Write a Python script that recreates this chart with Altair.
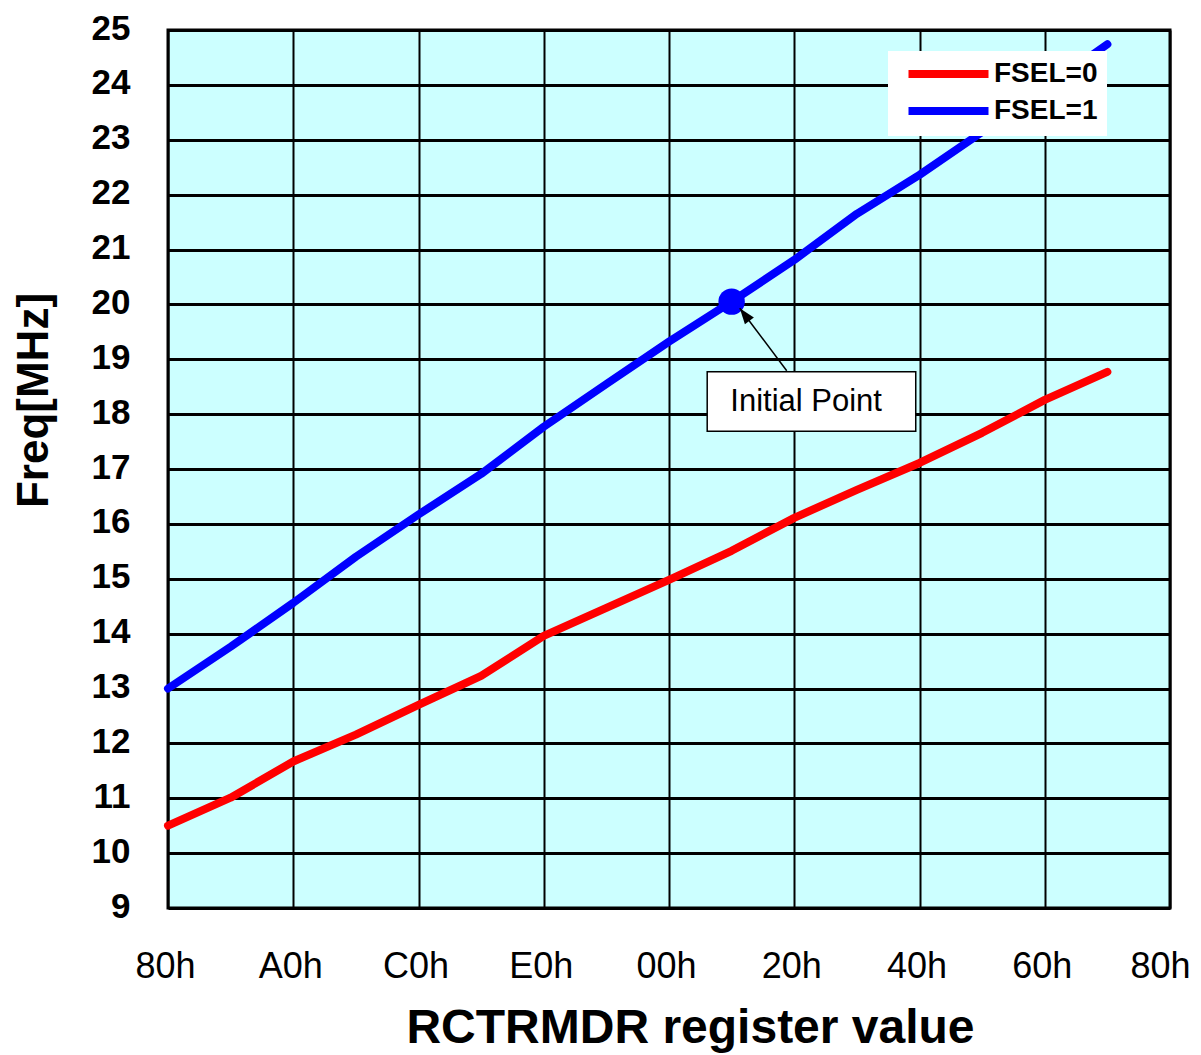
import altair as alt
import pandas as pd

# ---- data ----
REG_STEP = list(range(16))          # 80h, 90h, ... 70h  (step of 10h)
FSEL0 = [10.50, 11.01, 11.67, 12.16, 12.70, 13.23, 13.96, 14.47,
         14.98, 15.51, 16.11, 16.62, 17.11, 17.66, 18.26, 18.77]
FSEL1 = [13.00, 13.76, 14.56, 15.40, 16.17, 16.91, 17.77, 18.55,
         19.32, 20.05, 20.81, 21.65, 22.36, 23.14, 23.94, 24.74]
SERIES = ["FSEL=0", "FSEL=1"]
TICK_POS = [0, 2, 4, 6, 8, 10, 12, 14, 16]
TICK_LABELS = ["80h", "A0h", "C0h", "E0h", "00h", "20h", "40h", "60h", "80h"]
Y_TICKS = list(range(9, 26))

INIT_IDX = 9                      # 10h on FSEL=1 curve
INIT_TEXT = "Initial Point"
# annotation geometry in data units
BOX = dict(x=8.61, x2=11.94, y=18.77, y2=17.69)
BOX_TEXT = dict(x=10.19, y=18.23)
ARROW = dict(x=9.88, y=18.79, x2=9.13, y2=19.93)

rows = []
for i, s in enumerate(REG_STEP):
    rows.append({"step": s, "freq": FSEL0[i], "series": SERIES[0]})
    rows.append({"step": s, "freq": FSEL1[i], "series": SERIES[1]})
df = pd.DataFrame(rows)

label_expr = "{" + ",".join(f"'{p}':'{l}'" for p, l in zip(TICK_POS, TICK_LABELS)) + "}[datum.value]"

xscale = alt.Scale(domain=[0, 16], nice=False, zero=False)
yscale = alt.Scale(domain=[9, 25], nice=False, zero=False)

x_axis = alt.Axis(values=TICK_POS, labelExpr=label_expr, grid=True, gridColor="black",
                  gridWidth=2, gridOpacity=1, ticks=False, domain=False, labelFlush=False,
                  labelFont="Liberation Sans", labelFontSize=36, labelColor="black",
                  labelPadding=41,
                  labelOffset={"condition": {"test": f"datum.value == {TICK_POS[-1]}", "value": -10},
                               "value": -3},
                  labelBaseline="top",
                  title="RCTRMDR register value", titleFont="Liberation Sans",
                  titleFontSize=48, titleFontWeight="bold", titleColor="black",
                  titleX=522, titleY=120, titleBaseline="middle", titleAlign="center")
y_axis = alt.Axis(values=Y_TICKS, grid=True, gridColor="black", gridWidth=3, gridOpacity=1,
                  ticks=False, domain=False, labelFlush=False,
                  labelFont="Liberation Sans", labelFontSize=35, labelFontWeight="bold",
                  labelColor="black", labelPadding=38, labelOffset=-2,
                  title="Freq[MHz]", titleFont="Liberation Sans", titleFontSize=44,
                  titleFontWeight="bold", titleColor="black", titleAngle=-90,
                  titleX=-134, titleY=370, titleBaseline="middle", titleAlign="center")

lines = alt.Chart(df).mark_line(strokeWidth=8, strokeCap="round", strokeJoin="round").encode(
    x=alt.X("step:Q", scale=xscale, axis=x_axis),
    y=alt.Y("freq:Q", scale=yscale, axis=y_axis),
    color=alt.Color("series:N", scale=alt.Scale(domain=SERIES, range=["#FF0000", "#0000FF"]),
                    legend=alt.Legend(orient="none", legendX=720, legendY=21, title=None,
                                      fillColor="white", padding=9,
                                      symbolType="M-4,0H4", symbolSize=400,
                                      symbolStrokeWidth=8, symbolOffset=37.5,
                                      labelOffset=31.5, labelFont="Liberation Sans",
                                      labelFontSize=28, labelFontWeight="bold",
                                      labelColor="black", rowPadding=5)),
    detail="series:N",
)

init_df = pd.DataFrame({"step": [REG_STEP[INIT_IDX]], "freq": [FSEL1[INIT_IDX]]})
init_pt = alt.Chart(init_df).mark_point(filled=True, color="#0000FF", size=700, opacity=1,
                                         shape="circle").encode(
    x=alt.X("step:Q", scale=xscale), y=alt.Y("freq:Q", scale=yscale))

arrow_df = pd.DataFrame([ARROW])
arrow_line = alt.Chart(arrow_df).mark_rule(color="black", strokeWidth=1.5).encode(
    x=alt.X("x:Q", scale=xscale), y=alt.Y("y:Q", scale=yscale),
    x2="x2:Q", y2="y2:Q")
arrow_head = alt.Chart(arrow_df).mark_point(filled=True, color="black", opacity=1,
                                            shape="M0,0L-0.35,1L0.35,1Z", size=1024,
                                            angle=323).encode(
    x=alt.X("x2:Q", scale=xscale), y=alt.Y("y2:Q", scale=yscale))

box_df = pd.DataFrame([BOX])
box = alt.Chart(box_df).mark_rect(fill="white", stroke="black", strokeWidth=1.5).encode(
    x=alt.X("x:Q", scale=xscale), x2="x2:Q", y=alt.Y("y:Q", scale=yscale), y2="y2:Q")
text_df = pd.DataFrame([{**BOX_TEXT, "t": INIT_TEXT}])
box_text = alt.Chart(text_df).mark_text(font="Liberation Sans", fontSize=31, color="black",
                                        align="center", baseline="middle").encode(
    x=alt.X("x:Q", scale=xscale), y=alt.Y("y:Q", scale=yscale), text="t:N")

chart = alt.layer(lines, init_pt, arrow_line, arrow_head, box, box_text).properties(
    width=1002, height=878,
    autosize=alt.AutoSizeParams(type="none"),
    padding={"left": 160, "top": 22, "right": 23, "bottom": 147},
    background="white",
).configure_view(fill="#CCFFFF", stroke="black", strokeWidth=3)

chart.save("out.html", embed_options={"renderer": "svg", "actions": False})
